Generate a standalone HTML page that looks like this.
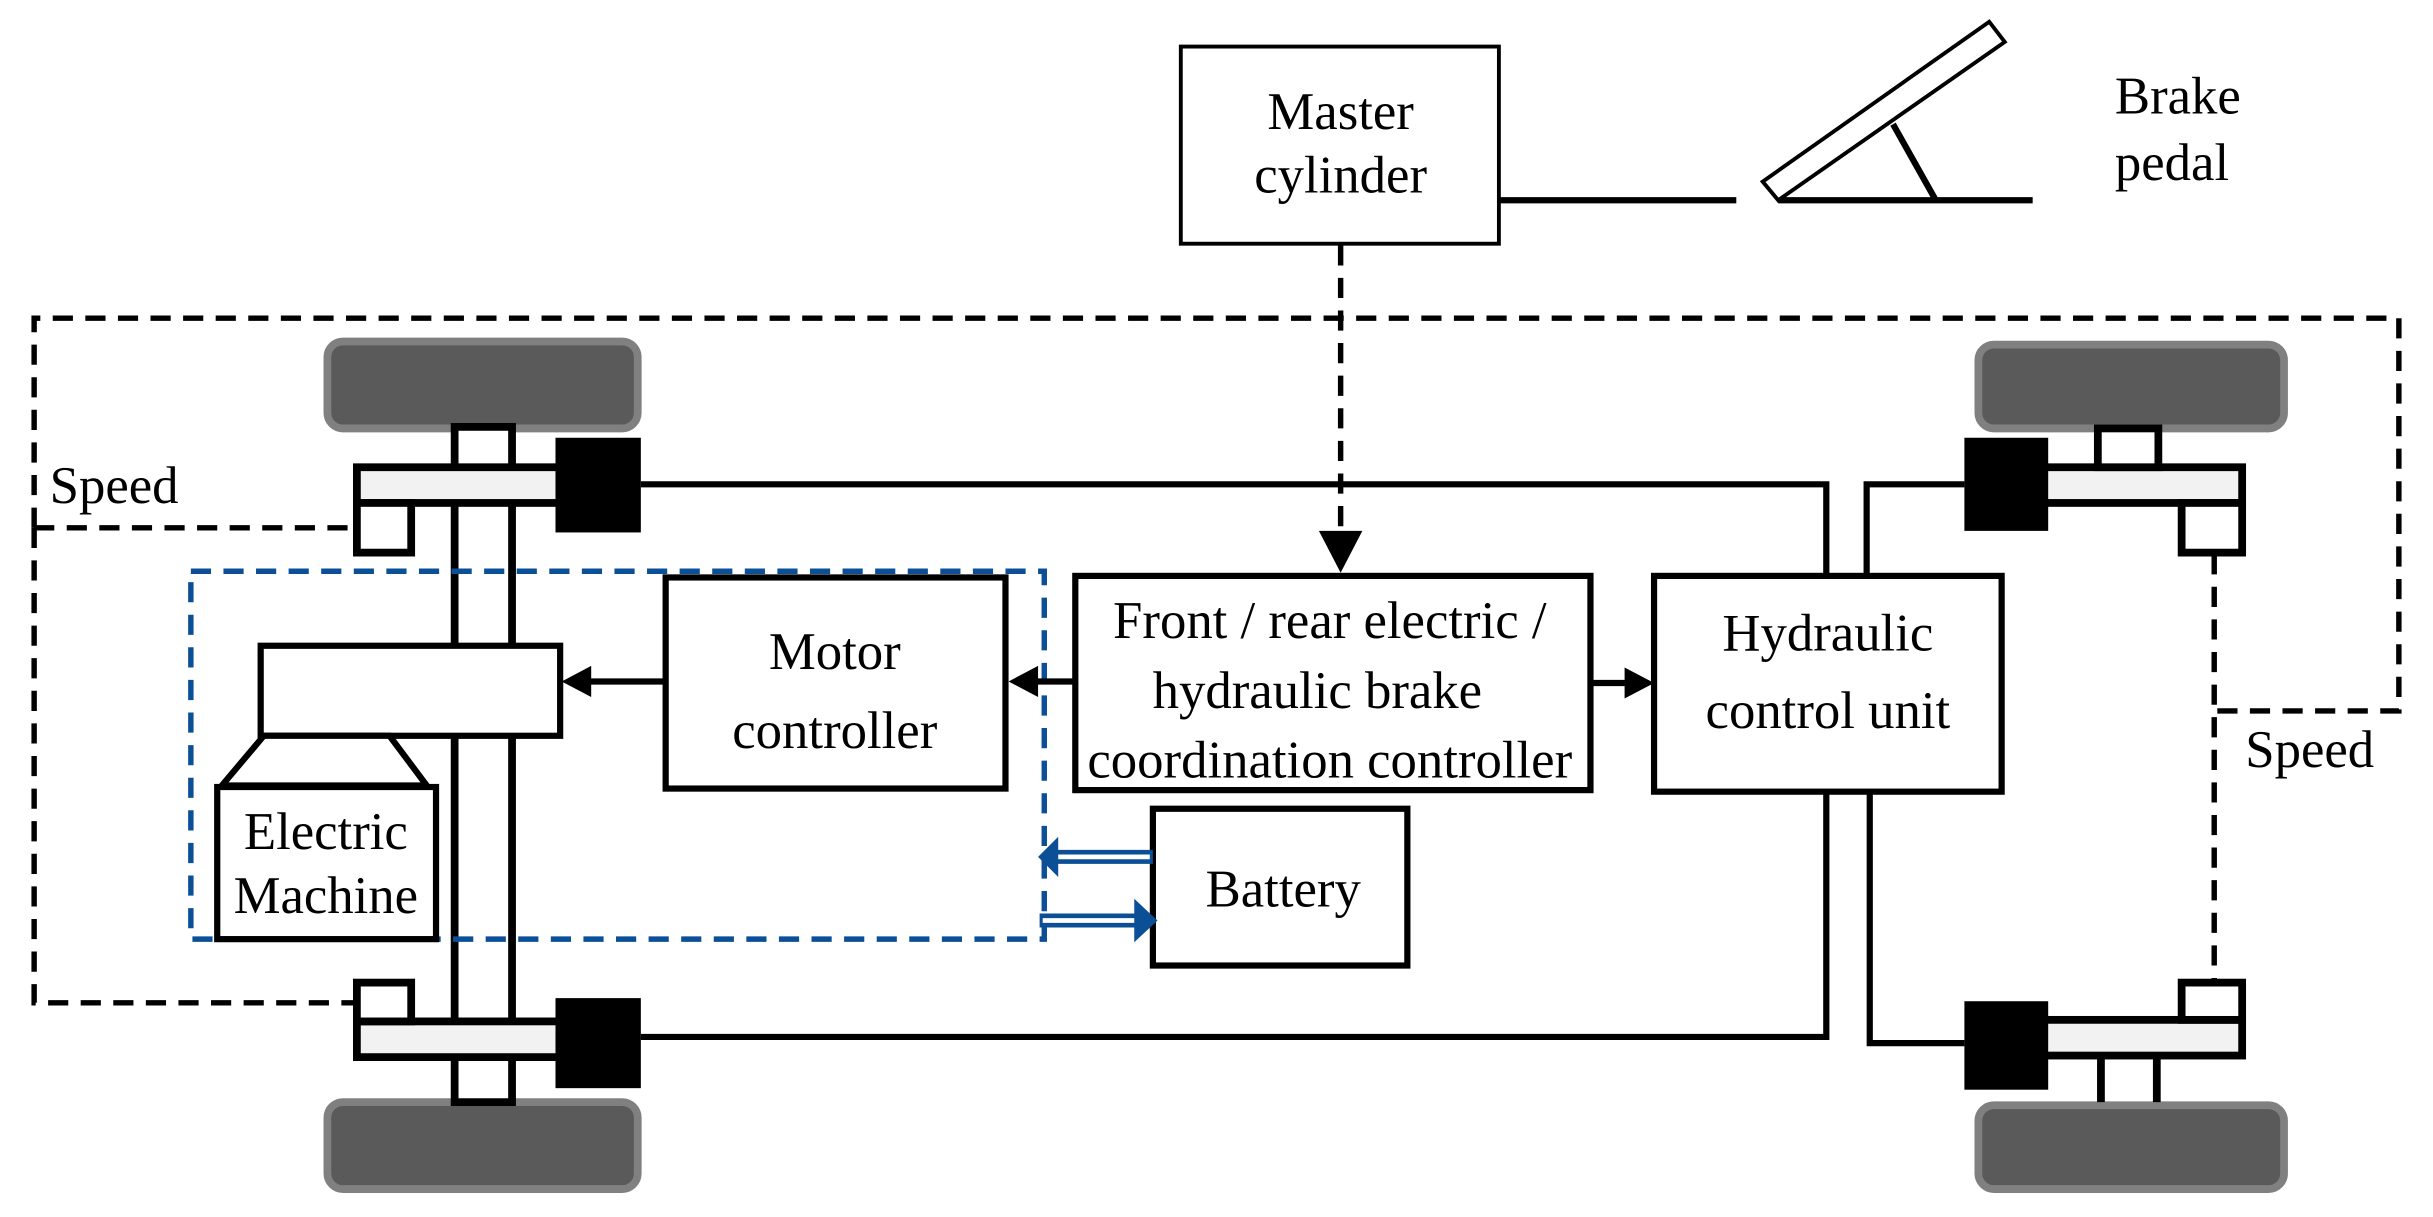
<!DOCTYPE html>
<html><head><meta charset="utf-8"><style>html,body{margin:0;padding:0;background:#fff}svg{display:block}text{font-family:"Liberation Serif",serif;font-size:34px;fill:#000}</style></head>
<body>
<svg width="2433" height="1217" viewBox="0 0 1568 784" preserveAspectRatio="none" xmlns="http://www.w3.org/2000/svg">
<g fill="none" stroke="#000" stroke-width="3.5" stroke-dasharray="13,8">
<path d="M22,340 V205 H1546 V458 H1427"/>
<path d="M22,340 H228"/>
<path d="M22,340 V646 H228"/>
<path d="M1427,357 V632"/>
<path d="M864,158 V343"/>
</g>
<polygon points="850,342 878,342 864,369" fill="#000"/>
<g fill="none" stroke="#000" stroke-width="4">
<path d="M413,312 H1177 V370"/>
<path d="M413,668 H1177 V510"/>
<path d="M1266,312 H1203 V370"/>
<path d="M1266,672 H1205 V510"/>
<path d="M967,129 H1119"/>
<path d="M1146,129 H1310"/>
<path d="M1220,80 L1247,128"/>
</g>
<polygon points="1136,117 1146,129 1292,27 1282,14" fill="#fff" stroke="#000" stroke-width="2.5"/>
<g fill="#5a5a5a" stroke="#808080" stroke-width="5">
<rect x="211" y="220" width="200" height="56" rx="10"/>
<rect x="211" y="710" width="200" height="56" rx="10"/>
<rect x="1275" y="222" width="197" height="54" rx="10"/>
<rect x="1275" y="712" width="197" height="54" rx="10"/>
</g>
<rect x="293" y="275" width="37" height="435" fill="#fff" stroke="#000" stroke-width="5"/>
<g stroke="#000" stroke-width="5">
<rect x="230" y="301" width="155" height="23" fill="#f2f2f2"/>
<rect x="230" y="324" width="35" height="32" fill="#fff"/>
<rect x="230" y="658" width="155" height="23" fill="#f2f2f2"/>
<rect x="230" y="633" width="35" height="25" fill="#fff"/>
<rect x="1291" y="301" width="154" height="23" fill="#f2f2f2"/>
<rect x="1406" y="324" width="39" height="32" fill="#fff"/>
<rect x="1352" y="276" width="39" height="25" fill="#fff"/>
<rect x="1291" y="657" width="154" height="23" fill="#f2f2f2"/>
<rect x="1406" y="633" width="39" height="24" fill="#fff"/>
<path d="M1354,680 V710 M1390,680 V710" fill="none"/>
</g>
<g fill="#000">
<rect x="358" y="282" width="55" height="61"/>
<rect x="358" y="643" width="55" height="58"/>
<rect x="1266" y="282" width="54" height="60"/>
<rect x="1266" y="645" width="54" height="57"/>
</g>
<rect x="123" y="368" width="550" height="237" fill="none" stroke="#0b4f96" stroke-width="3.5" stroke-dasharray="13,8"/>
<g fill="#fff" stroke="#000" stroke-width="4">
<rect x="168" y="416" width="193" height="58"/>
<polygon points="170,474 251,474 275,506 143,506"/>
<rect x="140" y="507" width="141" height="98"/>
<rect x="429" y="372" width="219" height="136"/>
<rect x="693" y="371" width="332" height="138"/>
<rect x="1066" y="371" width="224" height="139"/>
<rect x="743" y="521" width="164" height="101"/>
</g>
<rect x="761" y="30" width="205" height="127" fill="#fff" stroke="#000" stroke-width="2.5"/>
<g stroke="#000" stroke-width="4">
<path d="M429,439 H375"/><path d="M693,439 H668"/><path d="M1025,440 H1050"/>
</g>
<g fill="#000">
<polygon points="362,439 381,429 381,449"/>
<polygon points="650,439 669,429 669,449"/>
<polygon points="1066,440 1047,430 1047,450"/>
</g>
<g stroke="#0b4f96" stroke-width="9"><path d="M743,552 H680"/><path d="M670,593 H732"/></g>
<g stroke="#fff" stroke-width="3"><path d="M741,552 H680"/><path d="M672,593 H732"/></g>
<g fill="#0b4f96"><polygon points="669,552 682,539 682,565"/><polygon points="746,593 731,579 731,607"/></g>
<text x="864" y="83" text-anchor="middle">Master</text>
<text x="864" y="124" text-anchor="middle">cylinder</text>
<text x="1363" y="73">Brake</text>
<text x="1363" y="116">pedal</text>
<text x="32" y="324">Speed</text>
<text x="1447" y="494">Speed</text>
<text x="210" y="547" text-anchor="middle">Electric</text>
<text x="210" y="588" text-anchor="middle">Machine</text>
<text x="538" y="431" text-anchor="middle">Motor</text>
<text x="538" y="482" text-anchor="middle">controller</text>
<text x="857" y="411" text-anchor="middle">Front / rear electric /</text>
<text x="849" y="456" text-anchor="middle">hydraulic brake</text>
<text x="857" y="501" text-anchor="middle">coordination controller</text>
<text x="1178" y="419" text-anchor="middle">Hydraulic</text>
<text x="1178" y="469" text-anchor="middle">control unit</text>
<text x="827" y="584" text-anchor="middle">Battery</text>
</svg>
</body></html>
